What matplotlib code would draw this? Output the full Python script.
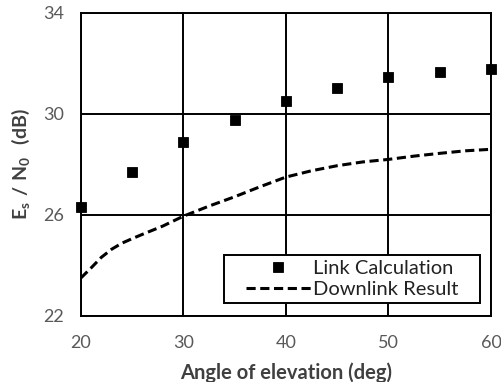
import matplotlib
matplotlib.use('Agg')
import matplotlib.pyplot as plt
from matplotlib.path import Path

plt.rcParams['font.family'] = ['Lato', 'DejaVu Sans']
plt.rcParams['mathtext.fontset'] = 'custom'
plt.rcParams['mathtext.rm'] = 'Lato'
plt.rcParams['mathtext.bf'] = 'Lato:bold'

# link budget points
calc_angle = [20, 25, 30, 35, 40, 45, 50, 55, 60]
calc_esno = [26.32, 27.70, 28.89, 29.78, 30.53, 31.03, 31.45, 31.66, 31.78]

# downlink measurement curve
dl_angle = [20, 21, 22, 23, 24, 25, 26, 28, 30, 32.5, 35, 37.5, 40, 42.5, 45, 47.5, 50, 52.5, 55, 57.5, 60]
dl_esno = [23.5, 23.9, 24.32, 24.64, 24.88, 25.06, 25.23, 25.56, 25.95, 26.35, 26.72, 27.12, 27.5,
           27.75, 27.95, 28.1, 28.2, 28.33, 28.44, 28.54, 28.6]

xticks = [20, 30, 40, 50, 60]
yticks = [22, 26, 30, 34]


def wide_box(x0, y0, width, height, mutation_size):
    # legend frame: roomy on the sides, tight top and bottom
    px = 1.1 * mutation_size
    py = 0.25 * mutation_size
    x0, y0 = x0 - px, y0 - py
    x1, y1 = x0 + width + 2 * px, y0 + height + 2 * py
    return Path([(x0, y0), (x1, y0), (x1, y1), (x0, y1), (x0, y0)], closed=True)


fig = plt.figure(figsize=(5.02, 3.82), dpi=100)
ax = fig.add_axes([0.161, 0.173, 0.817, 0.793])

ax.plot(calc_angle, calc_esno, 's', color='black', markersize=7.3, mew=0.6,
        label='Link Calculation', clip_on=False, zorder=3)
ax.plot(dl_angle, dl_esno, color='black', lw=2.2, dashes=(3, 1.5),
        label='Downlink Result', zorder=3)

ax.set_xlim(20, 60)
ax.set_ylim(22, 34)
ax.set_xticks(xticks)
ax.set_yticks(yticks)
ax.grid(True, color='black', lw=1.4)
for s in ax.spines.values():
    s.set_linewidth(1.4)
ax.tick_params(axis='y', length=0, labelsize=13, labelcolor='#595959', pad=12)
ax.tick_params(axis='x', length=0, labelsize=13, labelcolor='#595959', pad=14)

ax.set_xlabel('Angle of elevation (deg)', fontsize=14.5, fontweight='bold', color='#404040', labelpad=8)
ax.set_ylabel(r'$\mathbf{E_s\ /\ N_0\ \ (dB)}$', fontsize=14, color='#404040', labelpad=8)

leg = ax.legend(loc='lower right', bbox_to_anchor=(0.9195, 0.0594), fontsize=14.5,
                frameon=True, fancybox=False, edgecolor='black', framealpha=1,
                handlelength=3.2, handletextpad=0.1, borderpad=0, borderaxespad=0,
                labelspacing=0.2)
leg.get_frame().set_linewidth(1.4)
leg.get_frame().set_boxstyle(wide_box)
for t in leg.get_texts():
    t.set_color('#222222')

fig.savefig('out.png', dpi=100)
